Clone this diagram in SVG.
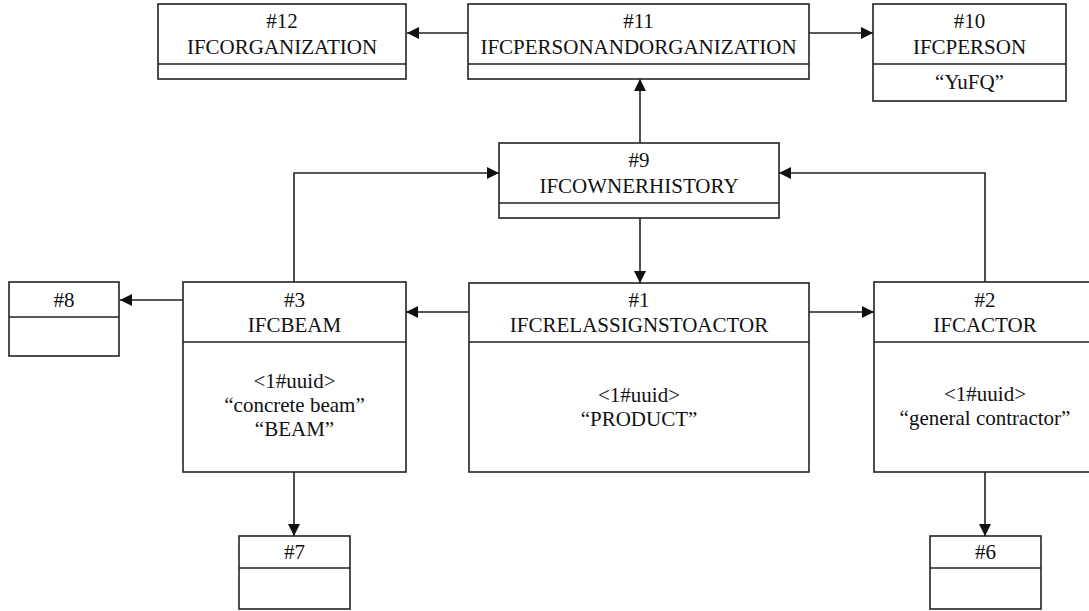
<svg xmlns="http://www.w3.org/2000/svg" width="1089" height="611" viewBox="0 0 1089 611">
<style>
.box{fill:#fff;stroke:#222;stroke-width:1.6}
.div{stroke:#222;stroke-width:1.6}
.t{font-family:'Liberation Serif','Times New Roman','DejaVu Serif','Noto Serif',serif;font-size:21px;fill:#111;text-anchor:middle}
.c{fill:none;stroke:#222;stroke-width:1.6}
</style>
<defs>
<marker id="ah" markerWidth="12" markerHeight="12" viewBox="0 0 12 12" refX="12" refY="6" orient="auto" markerUnits="userSpaceOnUse">
<path d="M0,0 L12,6 L0,12 z" fill="#111"/>
</marker>
</defs>
<rect width="1089" height="611" fill="#fff"/>
<g id="connectors">
<path class="c" d="M468,33 H407" marker-end="url(#ah)"/>
<path class="c" d="M809,33 H873" marker-end="url(#ah)"/>
<path class="c" d="M640,143 V79" marker-end="url(#ah)"/>
<path class="c" d="M640,218 V283" marker-end="url(#ah)"/>
<path class="c" d="M294,282 V173 H499" marker-end="url(#ah)"/>
<path class="c" d="M985,282 V173 H779" marker-end="url(#ah)"/>
<path class="c" d="M469,312 H406" marker-end="url(#ah)"/>
<path class="c" d="M809,312 H874" marker-end="url(#ah)"/>
<path class="c" d="M183,300 H120" marker-end="url(#ah)"/>
<path class="c" d="M294,472 V536" marker-end="url(#ah)"/>
<path class="c" d="M985,472 V536" marker-end="url(#ah)"/>
</g>
<g id="n12">
<rect class="box" x="158" y="4" width="248" height="75"/>
<line class="div" x1="158" y1="64" x2="406" y2="64"/>
<text class="t" x="282" y="28" font-family="Liberation Serif, serif">#12</text>
<text class="t" x="282" y="54">IFCORGANIZATION</text>
</g>
<g id="n11">
<rect class="box" x="468" y="4" width="341" height="75"/>
<line class="div" x1="468" y1="64" x2="809" y2="64"/>
<text class="t" x="638.5" y="28">#11</text>
<text class="t" x="638.5" y="54">IFCPERSONANDORGANIZATION</text>
</g>
<g id="n10">
<rect class="box" x="873" y="4" width="193" height="97"/>
<line class="div" x1="873" y1="64" x2="1066" y2="64"/>
<text class="t" x="969.5" y="28">#10</text>
<text class="t" x="969.5" y="54">IFCPERSON</text>
<text class="t" x="969.5" y="89">“YuFQ”</text>
</g>
<g id="n9">
<rect class="box" x="499" y="143" width="280" height="75"/>
<line class="div" x1="499" y1="203" x2="779" y2="203"/>
<text class="t" x="639" y="167">#9</text>
<text class="t" x="639" y="193">IFCOWNERHISTORY</text>
</g>
<g id="n8">
<rect class="box" x="9" y="282" width="110" height="74"/>
<line class="div" x1="9" y1="317" x2="119" y2="317"/>
<text class="t" x="64" y="307">#8</text>
</g>
<g id="n3">
<rect class="box" x="183" y="282" width="223" height="190"/>
<line class="div" x1="183" y1="342" x2="406" y2="342"/>
<text class="t" x="294.5" y="307">#3</text>
<text class="t" x="294.5" y="332">IFCBEAM</text>
<text class="t" x="294.5" y="388">&lt;1#uuid&gt;</text>
<text class="t" x="294.5" y="412">“concrete beam”</text>
<text class="t" x="294.5" y="436">“BEAM”</text>
</g>
<g id="n1">
<rect class="box" x="469" y="283" width="340" height="189"/>
<line class="div" x1="469" y1="342" x2="809" y2="342"/>
<text class="t" x="639" y="307">#1</text>
<text class="t" x="639" y="332">IFCRELASSIGNSTOACTOR</text>
<text class="t" x="639" y="402">&lt;1#uuid&gt;</text>
<text class="t" x="639" y="426">“PRODUCT”</text>
</g>
<g id="n2">
<rect class="box" x="874" y="282" width="222" height="190"/>
<line class="div" x1="874" y1="342" x2="1096" y2="342"/>
<text class="t" x="985" y="307">#2</text>
<text class="t" x="985" y="332">IFCACTOR</text>
<text class="t" x="985" y="401">&lt;1#uuid&gt;</text>
<text class="t" x="985" y="425">“general contractor”</text>
</g>
<g id="n7">
<rect class="box" x="239" y="536" width="111" height="73"/>
<line class="div" x1="239" y1="568" x2="350" y2="568"/>
<text class="t" x="294.5" y="559">#7</text>
</g>
<g id="n6">
<rect class="box" x="930" y="536" width="111" height="73"/>
<line class="div" x1="930" y1="568" x2="1041" y2="568"/>
<text class="t" x="985.5" y="559">#6</text>
</g>
</svg>
